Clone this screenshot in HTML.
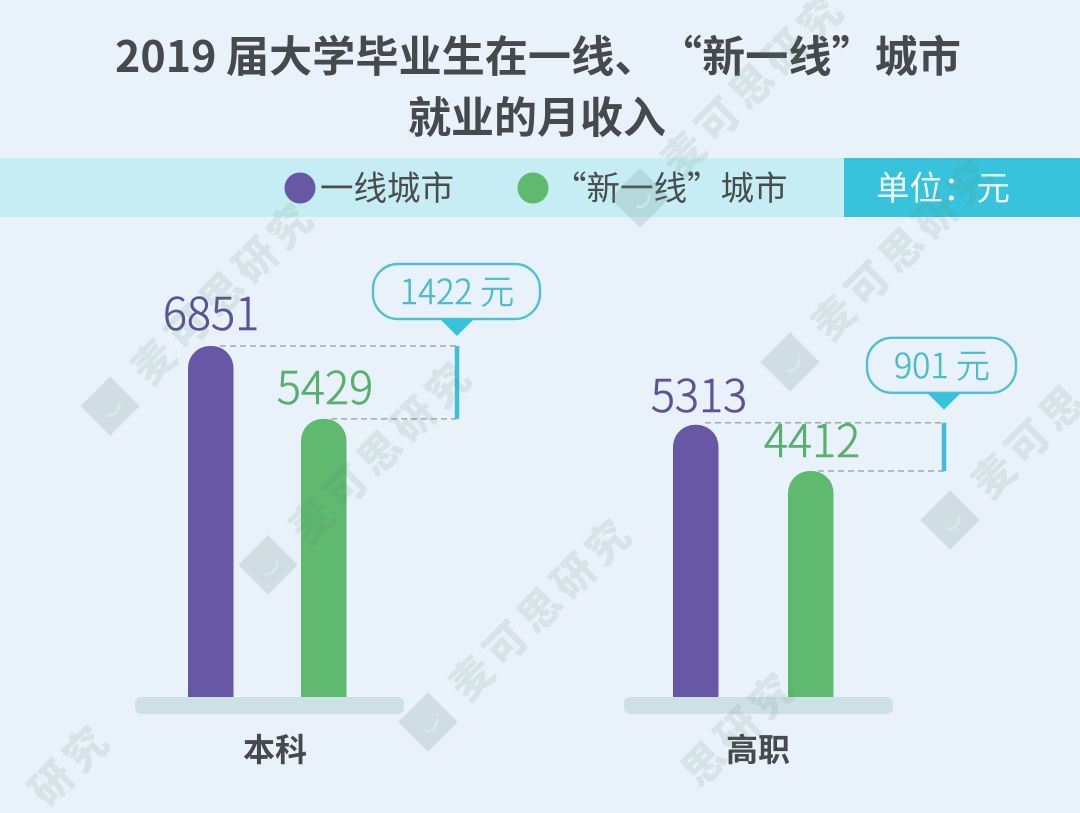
<!DOCTYPE html>
<html lang="zh">
<head>
<meta charset="utf-8">
<title>2019 届大学毕业生在一线、“新一线”城市就业的月收入</title>
<style>
html,body{margin:0;padding:0;background:#e9f2fb;width:1080px;height:813px;overflow:hidden;}
svg{display:block;overflow:hidden;}
text{font-family:"Liberation Sans","Noto Sans CJK SC",sans-serif;}
.cjk{font-family:"Noto Sans CJK SC","Liberation Sans",sans-serif;}
</style>
</head>
<body>
<svg id="chart" xmlns="http://www.w3.org/2000/svg" width="1080" height="813" viewBox="0 0 1080 813">
  <rect width="1080" height="813" fill="#e9f2fb"/>
  <text class="cjk" y="72" font-size="43" font-weight="700" fill="#464a4c"><tspan x="115">2019</tspan><tspan x="226" letter-spacing="0.15">届大学毕业生在一线、</tspan><tspan x="659" letter-spacing="0.15">“新一线”城市</tspan></text>
  <text class="cjk" x="537" y="133" text-anchor="middle" font-size="43" font-weight="700" fill="#464a4c">就业的月收入</text>
  <rect x="0" y="158" width="1080" height="59" fill="#c6edf3"/>
  <rect x="844" y="158" width="236" height="59" fill="#38c3dc"/>
  <text class="cjk" x="876" y="200" font-size="33.5" fill="#f2fbfd">单位：元</text>
  <g>
    <ellipse cx="300" cy="188" rx="15.5" ry="15.5" fill="#6757a5"/>
    <text class="cjk" x="320" y="200" font-size="33.5" fill="#4a4d50">一线城市</text>
  </g>
  <g>
    <ellipse cx="533" cy="188" rx="15.5" ry="15.5" fill="#5fb96f"/>
    <text class="cjk" x="553" y="200" font-size="33.5" fill="#4a4d50">“新一线”城市</text>
  </g>
  <g id="marks"></g>
  <g id="wm"></g>
</svg>
<script>
const categories = ['本科', '高职'];
const firstTier = [6851, 5313];
const newFirstTier = [5429, 4412];
const gapLabels = ['1422 元', '901 元'];

const NS = 'http://www.w3.org/2000/svg';
const marks = document.getElementById('marks');
const BASE_Y = 697;
const PX_PER_UNIT = 351 / 6851;
function yScale(v) { return BASE_Y - v * PX_PER_UNIT; }
const groupX = [0, 486];

function make(tag, attrs, parent) {
  const el = document.createElementNS(NS, tag);
  for (const k in attrs) el.setAttribute(k, attrs[k]);
  parent.appendChild(el);
  return el;
}
function barPath(x, w, top, r) {
  return 'M' + x + ' ' + BASE_Y + 'V' + (top + r) + 'A' + r + ' ' + r + ' 0 0 1 ' + (x + r) + ' ' + top +
    'H' + (x + w - r) + 'A' + r + ' ' + r + ' 0 0 1 ' + (x + w) + ' ' + (top + r) + 'V' + BASE_Y + 'Z';
}

categories.forEach(function (cat, i) {
  const dx = groupX[i];
  const topA = yScale(firstTier[i]);
  const topB = yScale(newFirstTier[i]);
  const xA = 188 + dx - (i ? 1 : 0);
  const xB = 301 + dx + (i ? 1 : 0);
  const brX = i ? 944 : 457;
  const lineTop = topA - (i ? 2 : 0);

  const axis = make('rect', { x: i ? 624 : 135, y: 697, width: 269, height: 17, rx: 6, fill: '#cde0e6' }, marks);
  
  

  const barA = make('path', { d: barPath(xA, 45.5, topA, 22), fill: '#6757a5' }, marks);
  
  

  const barB = make('path', { d: barPath(xB, 45.5, topB, 22), fill: '#5fb96f' }, marks);
  
  

  const dashA = make('line', { x1: xA + 32, x2: brX, y1: lineTop, y2: lineTop, stroke: '#a3a8b0', 'stroke-width': 1.5, 'stroke-dasharray': '6 4' }, marks);
  
  

  const dashB = make('line', { x1: xB + 30, x2: brX, y1: topB, y2: topB, stroke: '#a3a8b0', 'stroke-width': 1.5, 'stroke-dasharray': '6 4' }, marks);
  
  

  const bracket = make('line', { x1: brX, x2: brX, y1: lineTop, y2: topB, stroke: '#3fbfd9', 'stroke-width': 4.5 }, marks);
  
  

  const pill = make('rect', { x: i ? 867 : 373, y: lineTop - (i ? 85 : 82), width: i ? 149 : 167, height: 55, rx: 25, fill: 'none', stroke: '#4fc0d6', 'stroke-width': 2.4 }, marks);
  
  

  const tipTop = lineTop - (i ? 30 : 27);
  const tip = make('path', { d: 'M' + (brX - 17) + ' ' + tipTop + 'H' + (brX + 17) + 'L' + brX + ' ' + (tipTop + 17) + 'Z', fill: '#38c3dc' }, marks);
  
  

  const gapText = make('text', { x: i ? 942 : 457, y: lineTop - (i ? 45 : 42), 'text-anchor': 'middle', 'font-size': 34, 'font-weight': 300, fill: '#4bbcc9', stroke: '#4bbcc9', 'stroke-width': 0.5, class: 'cjk' }, marks);
  gapText.textContent = gapLabels[i];
  
  

  const valA = make('text', { x: i ? 699 : 211, y: topA - (i ? 13 : 16), 'text-anchor': 'middle', 'font-size': 45, 'font-weight': 300, fill: '#5b5394', stroke: '#5b5394', 'stroke-width': 0.6, class: 'cjk' }, marks);
  valA.textContent = firstTier[i];
  
  

  const valB = make('text', { x: i ? 812 : 325, y: topB - (i ? 14 : 15), 'text-anchor': 'middle', 'font-size': 45, 'font-weight': 300, fill: '#58b06c', stroke: '#58b06c', 'stroke-width': 0.6, class: 'cjk' }, marks);
  valB.textContent = newFirstTier[i];
  
  

  const lab = make('text', { x: i ? 758 : 275, y: 761, 'text-anchor': 'middle', 'font-size': 32, 'font-weight': 700, fill: '#464a4c', class: 'cjk' }, marks);
  lab.textContent = cat;
  
  
});

const wm = document.getElementById('wm');
const WM_WORD = '麦可思研究';
const WM_PITCH = 48;
// Each watermark: logo centre, then the first and last+1 character shown so nothing hangs off the frame.
const anchors = [
  [110, 406, 0, 5], [268, 565, 0, 5], [428, 722, 0, 5],
  [640, 198, 0, 5], [790, 362, 0, 5], [950, 520, 0, 3],
  [-94, 929, 3, 5], [592, 876, 2, 5]
];
anchors.forEach(function (p, i) {
  const g = make('g', { transform: 'translate(' + p[0] + ' ' + p[1] + ') rotate(-45)' }, wm);
  
  
  if (p[2] === 0) {
    const logo = make('rect', { x: -21, y: -21, width: 42, height: 42, fill: '#6f8a80', opacity: 0.2 }, g);
    
    
    const smile = make('path', { d: 'M-9 4Q0 13 9 4', fill: 'none', stroke: '#e9f0f5', 'stroke-width': 3, opacity: 0.45 }, g);
    
    
  }
  const t = make('text', { x: 41 + p[2] * WM_PITCH, y: 15, 'font-size': 42, 'font-weight': 900, 'letter-spacing': 6, class: 'cjk', fill: '#5d8a70', opacity: 0.13 }, g);
  t.textContent = WM_WORD.slice(p[2], p[3]);
  
  
});
</script>
</body>
</html>
